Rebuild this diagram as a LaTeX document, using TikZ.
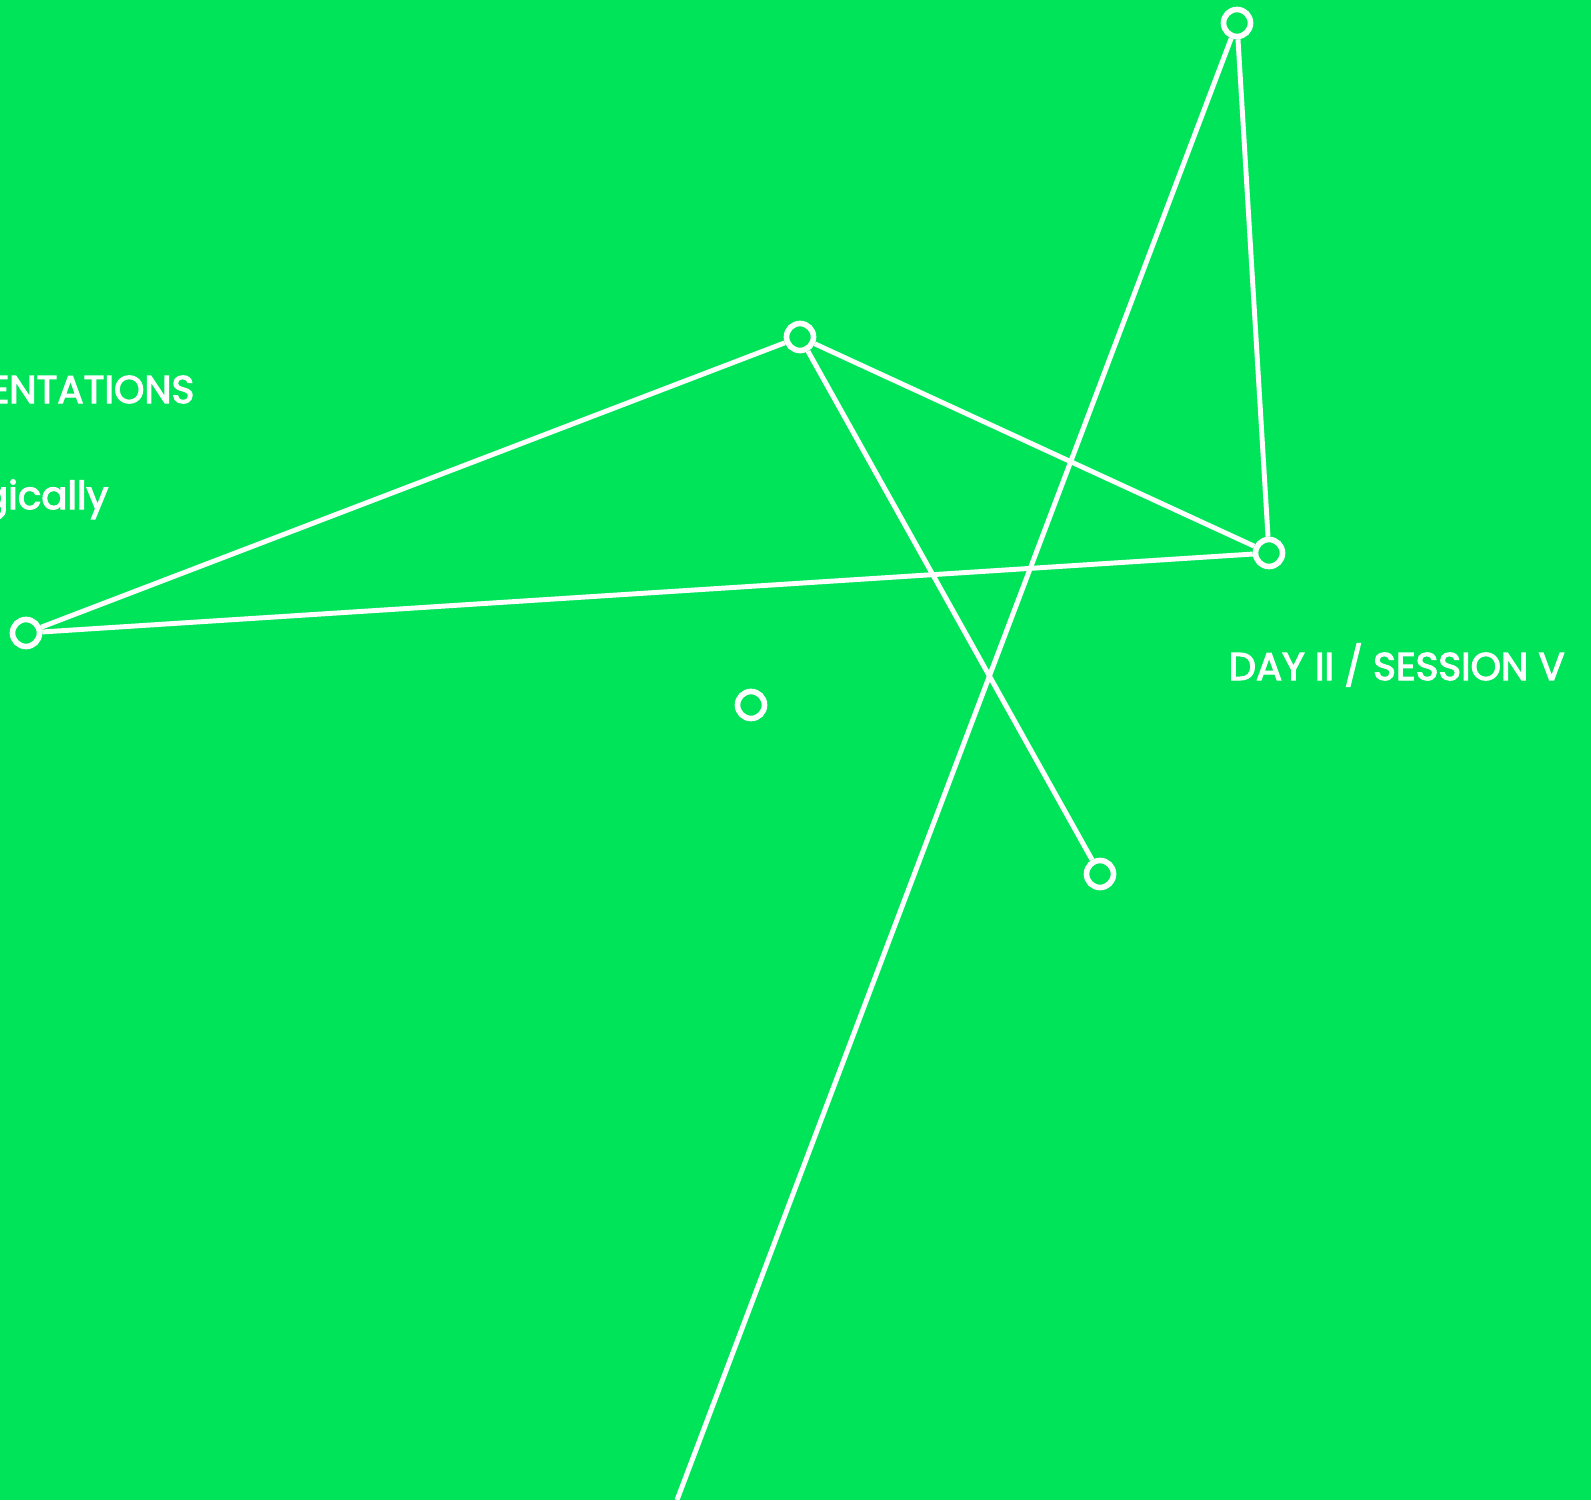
\documentclass[tikz,border=0pt]{standalone}
\usepackage{fontspec}
\setmainfont{Poppins}[FakeBold=3]
\usepackage{xcolor}
\usetikzlibrary{positioning, calc}
\definecolor{signalgreen}{HTML}{00E45A}

\begin{document}
\begin{tikzpicture}[x=0.01cm, y=-0.01cm,
  dot/.style={circle, draw=white, fill=signalgreen, line width=1.6pt, minimum size=0.27cm, inner sep=0pt},
  link/.style={draw=white, line width=1.4pt},
  caption/.style={text=white, inner sep=0pt, font=\fontsize{11pt}{13pt}\selectfont}]
% Background
\fill[signalgreen] (0,0) rectangle (1591,1500);
\useasboundingbox (0,0) rectangle (1591,1500);
\clip (0,0) rectangle (1591,1500);

% Labels
\node[caption, anchor=base east] (lblA) at (195,403) {ENTATIONS};
\node[caption, anchor=base east] (lblB) at (109,509) {gically};
\node[caption, anchor=base west] (lblC) at (1228,680) {DAY II / SESSION V};

% Points
\node[dot] (top) at (1237,23) {};
\node[dot] (mid) at (800,337) {};
\node[dot] (right) at (1269,553) {};
\node[dot] (left) at (26,633) {};
\node[dot] (lone) at (751,705) {};
\node[dot] (low) at (1100,874) {};
\coordinate (foot) at (677,1500);

% Links
\draw[link] (top) -- (foot);
\draw[link] (top) -- (right);
\draw[link] (mid) -- (left);
\draw[link] (mid) -- (right);
\draw[link] (mid) -- (low);
\draw[link] (left) -- (right);
\end{tikzpicture}
\end{document}
